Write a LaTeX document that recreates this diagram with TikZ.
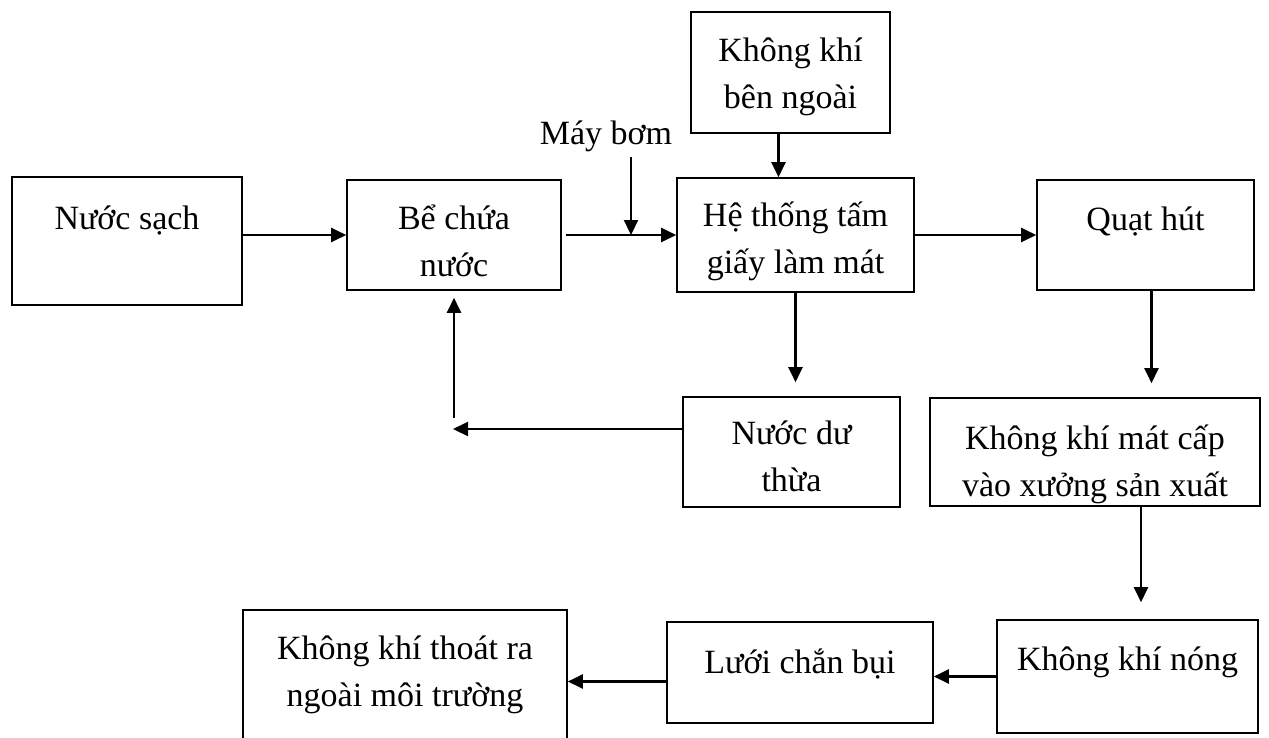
\documentclass[tikz,border=0pt]{standalone}
\usepackage{fontspec}
\setmainfont{Liberation Serif}
\usetikzlibrary{arrows.meta}
\newcommand{\caodong}[1]{\rule{0pt}{#1pt}}

\begin{document}
\begin{tikzpicture}[x=1pt,y=-1pt,line width=2.2pt,>={Triangle[length=15pt,width=14pt]},
  box/.style={draw,line width=1.6pt,align=center,inner sep=0pt,font=\fontsize{34}{47}\selectfont}]
  \useasboundingbox (0,0) rectangle (1269,737);
  % cac khoi
  \node[box,minimum width=230pt,minimum height=128pt] (nuoc) at (127,241){Nước sạch\\\mbox{}};
  \node[box,minimum width=214pt,minimum height=110pt] (be) at (454,235){\caodong{37}Bể chứa\\nước};
  \node[box,minimum width=237pt,minimum height=114pt] (he) at (795.5,235){\caodong{38}Hệ thống tấm\\giấy làm mát};
  \node[box,minimum width=199pt,minimum height=121pt] (kkngoai) at (790.5,72.5){\caodong{33}Không khí\\bên ngoài};
  \node[box,minimum width=217pt,minimum height=110pt] (quat) at (1145.5,235){\caodong{37}Quạt hút\\\mbox{}};
  \node[box,minimum width=217pt,minimum height=110pt] (du) at (791.5,452){\caodong{33}Nước dư\\thừa};
  \node[box,minimum width=330pt,minimum height=108pt] (mat) at (1095,452){\caodong{50}Không khí mát cấp\\vào xưởng sản xuất};
  \node[box,minimum width=261pt,minimum height=113pt] (nong) at (1127.5,676.5){\caodong{34}Không khí nóng\\\mbox{}};
  \node[box,minimum width=266pt,minimum height=101pt] (luoi) at (800,672.5){\caodong{48}Lưới chắn bụi\\\mbox{}};
  \node[box,minimum width=324pt,minimum height=130pt] (thoat) at (405,675){Không khí thoát ra\\ngoài môi trường};
  \node[font=\fontsize{34}{47}\selectfont] (bom) at (606,136){Máy bơm};
  % duong nuoc
  \draw[->] (nuoc.east |- be.west) -- (be.west);
  \draw[->] ([xshift=4pt]be.east) -- (he.west);
  \coordinate (bomtop) at (631,157);
  \coordinate (bomend) at (631,235);
  \draw[->] (bomtop) -- (bomend);
  \draw[->,shorten >=14pt] (he.south) -- (he.south |- du.north);
  % nuoc du quay lai be
  \coordinate (ve) at (453,429);
  \draw[->] ([yshift=23pt]du.west) -- (ve);
  \coordinate (vetren) at (454,418);
  \draw[->,shorten >=7pt] (vetren) -- (be.south);
  % duong khong khi
  \draw[->] ([xshift=-12pt]kkngoai.south) -- ([xshift=-12pt]kkngoai.south |- he.north);
  \draw[->] (he.east) -- (quat.west);
  \draw[->,shorten >=14pt] ([xshift=6pt]quat.south) -- ([xshift=6pt]quat.south |- mat.north);
  \draw[->,shorten >=17pt] ([xshift=46pt]mat.south) -- ([xshift=46pt]mat.south |- nong.north);
  \draw[->] (nong.west) -- (nong.west -| luoi.east);
  \draw[->] ([yshift=-9pt]luoi.west) -- ([yshift=-9pt]luoi.west -| thoat.east);
\end{tikzpicture}
\end{document}
